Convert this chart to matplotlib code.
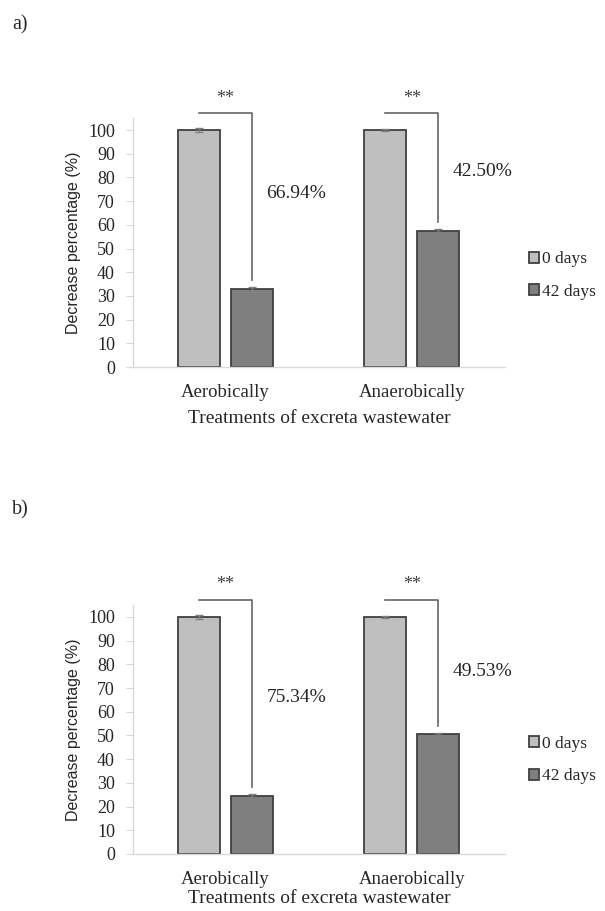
import matplotlib
matplotlib.use('Agg')
import matplotlib.pyplot as plt
import numpy as np

plt.rcParams['font.family'] = ['Liberation Serif', 'DejaVu Serif']

# dados
tratamentos = ['Aerobically', 'Anaerobically']
series = ['0 days', '42 days']
a_0dias = [100, 100]
a_42dias = [33.06, 57.50]
b_0dias = [100, 100]
b_42dias = [24.66, 50.47]
a_erro = [0.8, 0.6]
b_erro = [0.8, 0.6]
a_reducao = ['66.94%', '42.50%']
b_reducao = ['75.34%', '49.53%']
yticks = list(range(0, 101, 10))

cor_claro = '#bfbfbf'
cor_escuro = '#7f7f7f'
cor_borda = '#404040'
cor_eixo = '#d9d9d9'
cor_texto = '#262626'

fig = plt.figure(figsize=(6.05, 9.11), dpi=100)

larg = 0.225
desl = 0.142


def painel(ax, v0, v42, erro, reducao, pos_txt, leg_y, pad_xlabel):
    x = np.arange(len(tratamentos))
    ax.bar(x - desl, v0, larg, color=cor_claro, edgecolor=cor_borda, linewidth=1.3,
           yerr=erro, ecolor='#808080', capsize=3, error_kw={'elinewidth': 1, 'capthick': 1},
           label=series[0], zorder=2)
    ax.bar(x + desl, v42, larg, color=cor_escuro, edgecolor=cor_borda, linewidth=1.3,
           yerr=erro, ecolor='#808080', capsize=3, error_kw={'elinewidth': 1, 'capthick': 1},
           label=series[1], zorder=2)

    # colchetes de significancia
    for i in range(len(tratamentos)):
        topo = 107.3
        ax.plot([x[i] - desl, x[i] + desl, x[i] + desl],
                [topo, topo, v42[i] + 3.5], color='#666666', lw=1.2,
                clip_on=False, zorder=3)
        ax.text(x[i], 113.5, '**', ha='center', va='center', fontsize=13,
                color='#404040')
        ax.text(x[i] + 0.38, pos_txt[i], reducao[i], ha='center', va='center',
                fontsize=14, color=cor_texto)

    ax.set_xlim(-0.496, 1.499)
    ax.set_ylim(0, 105)
    ax.set_yticks(yticks)
    ax.set_xticks(x)
    ax.set_xticklabels(tratamentos, fontsize=13.5, color=cor_texto)
    ax.tick_params(axis='y', labelsize=13, colors=cor_eixo, labelcolor=cor_texto,
                   length=5, pad=8)
    ax.tick_params(axis='x', length=0, pad=12)
    for lado in ['top', 'right']:
        ax.spines[lado].set_visible(False)
    for lado in ['left', 'bottom']:
        ax.spines[lado].set_color(cor_eixo)
        ax.spines[lado].set_linewidth(1)
    ax.set_xlabel('Treatments of excreta wastewater', fontsize=14, color=cor_texto,
                  labelpad=pad_xlabel)
    ax.set_ylabel('Decrease percentage (%)', fontsize=11.5, color=cor_texto,
                  family=['Liberation Sans', 'DejaVu Sans'], labelpad=5)
    ax.legend(loc='center left', bbox_to_anchor=(1.04, leg_y), frameon=False,
              fontsize=12.5, handlelength=0.6, handleheight=0.6, handletextpad=0.2,
              labelspacing=0.95, borderpad=0, labelcolor=cor_texto)


ax1 = fig.add_axes([0.2198, 0.5971, 0.6149, 0.2732])
painel(ax1, a_0dias, a_42dias, a_erro, a_reducao, [73.4, 82.3], 0.368, 7)

ax2 = fig.add_axes([0.2198, 0.06257, 0.6149, 0.2732])
painel(ax2, b_0dias, b_42dias, b_erro, b_reducao, [66.2, 76.8], 0.378, 2)

fig.text(12 / 605, 1 - 25 / 911, 'a)', fontsize=14.5, va='center', ha='left', color=cor_texto)
fig.text(12 / 605, 1 - 510 / 911, 'b)', fontsize=14.5, va='center', ha='left', color=cor_texto)

fig.savefig('out.png', dpi=100, facecolor='white')
